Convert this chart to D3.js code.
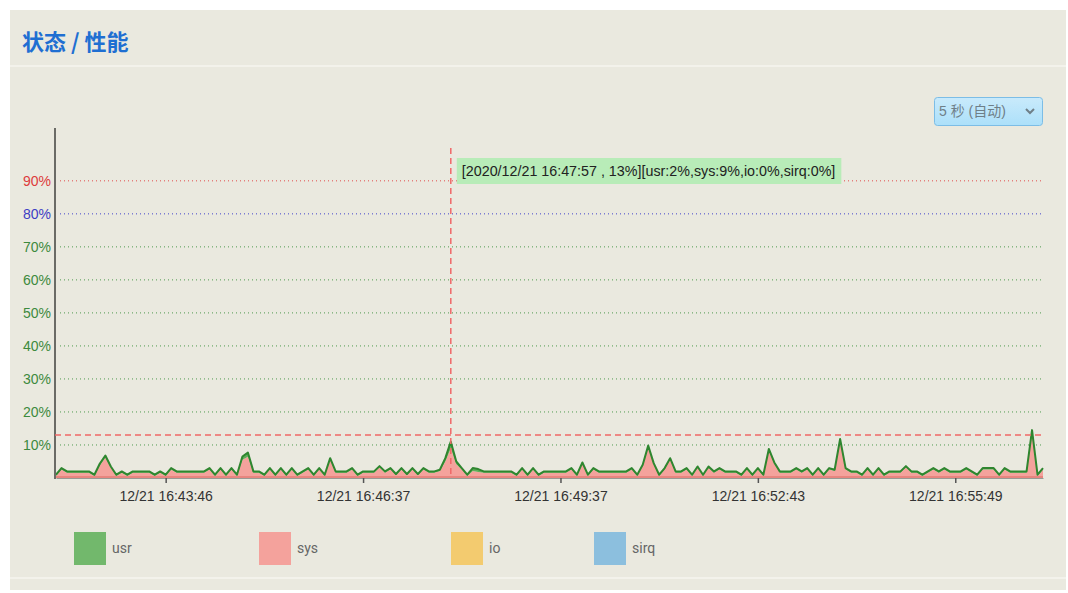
<!DOCTYPE html>
<html><head><meta charset="utf-8">
<script src="https://cdn.jsdelivr.net/npm/d3@7/dist/d3.min.js"></script>
<style>
html,body{margin:0;padding:0;background:#fff;}
svg{display:block;}
</style></head>
<body>
<svg id="c" width="1068" height="593"></svg>
<script>
// ---- data ----
const seriesNames = ["usr", "sys", "io", "sirq"];
const seriesColors = ["#72b86c", "#f4a29c", "#f3cb6f", "#8cbfde"];
const usr = [
0.4,0.4,0.4,0.4,0.4,0.4,0.4,0.4,0.6,0.7,0.4,0.4,0.4,0.4,0.4,0.4,0.4,0.4,0.4,0.4,
0.4,0.4,0.4,0.4,0.4,0.4,0.4,0.4,0.4,0.4,0.4,0.4,0.4,0.4,1.0,1.3,0.4,0.4,0.4,0.4,
0.4,0.4,0.4,0.4,0.4,0.4,0.4,0.4,0.4,0.4,0.4,0.4,0.4,0.4,0.4,0.4,0.4,0.4,0.4,0.4,
0.4,0.4,0.4,0.4,0.4,0.4,0.4,0.4,0.4,0.4,0.4,1.0,2.0,0.8,0.4,0.4,0.9,0.9,0.4,0.4,
0.4,0.4,0.4,0.4,0.4,0.4,0.4,0.4,0.4,0.4,0.4,0.4,0.4,0.4,0.4,0.4,0.4,0.4,0.4,0.4,
0.4,0.4,0.4,0.4,0.4,0.4,0.4,0.4,0.6,0.4,0.4,0.4,0.4,0.4,0.4,0.4,0.4,0.4,0.4,0.4,
0.4,0.4,0.4,0.4,0.4,0.4,0.4,0.4,0.4,0.4,0.5,0.4,0.4,0.4,0.4,0.4,0.4,0.4,0.4,0.4,
0.4,0.4,0.4,0.6,0.4,0.4,0.4,0.4,0.4,0.4,0.4,0.4,0.4,0.4,0.4,0.4,0.4,0.4,0.4,0.4,
0.4,0.4,0.4,0.4,0.4,0.4,0.4,0.4,0.4,0.4,0.4,0.4,0.4,0.4,0.4,0.4,0.4,0.4,1.0,0.4,
0.4];
const sys = [
0.6,2.6,1.6,1.6,1.6,1.6,1.6,0.6,3.8,6.1,3.1,0.6,1.6,0.6,1.6,1.6,1.6,1.6,0.6,1.6,
0.6,2.6,1.6,1.6,1.6,1.6,1.6,1.6,2.6,0.6,2.6,0.6,2.6,0.6,5.5,6.4,1.6,1.6,0.6,2.6,
0.6,2.6,0.6,2.6,0.6,1.6,2.6,0.6,2.6,0.6,5.6,1.6,1.6,1.6,2.6,0.6,1.6,1.6,1.6,3.2,
1.6,2.6,0.8,2.6,0.8,2.6,0.8,2.6,1.6,1.6,2.1,5.0,9.0,4.2,2.6,0.6,2.1,1.8,1.6,1.6,
1.6,1.6,1.6,1.6,0.6,2.6,0.6,2.6,0.6,1.6,1.6,1.6,1.6,1.6,2.6,0.6,4.3,0.6,2.6,1.6,
1.6,1.6,1.6,1.6,1.6,2.6,0.6,3.6,9.2,4.1,0.6,2.6,5.6,1.6,1.6,2.6,0.6,3.1,0.6,3.1,
1.6,2.6,1.6,1.6,1.6,0.6,2.6,0.6,2.6,0.6,8.3,4.3,1.6,1.6,1.6,2.6,1.6,2.6,0.6,2.6,
0.6,2.6,2.1,11.2,2.6,1.6,1.6,0.6,2.6,0.6,2.6,0.6,1.6,1.6,1.6,3.2,1.6,1.6,0.6,1.6,
2.6,1.6,2.6,1.6,1.6,1.6,2.6,1.6,0.6,2.6,2.6,2.6,0.6,2.6,1.6,1.6,1.6,1.6,13.5,0.6,
2.6];
const xTickIndex = [20, 56, 92, 128, 164];
const xTickLabels = ["12/21 16:43:46", "12/21 16:46:37", "12/21 16:49:37", "12/21 16:52:43", "12/21 16:55:49"];
const yTicks = [10, 20, 30, 40, 50, 60, 70, 80, 90];
const hoverIndex = 72;
const hoverValue = 13;
const tooltipText = "[2020/12/21 16:47:57 , 13%][usr:2%,sys:9%,io:0%,sirq:0%]";
const titleText = "状态 / 性能";
const selectText = "5 秒 (自动)";

// ---- drawing ----
const svg = d3.select("#c");
const bg = "#eae9df";
svg.append("rect").attr("x",10).attr("y",10).attr("width",1056).attr("height",580).attr("fill",bg);
svg.append("line").attr("x1",10).attr("x2",1066).attr("y1",66).attr("y2",66).attr("stroke","#f3f2eb").attr("stroke-width",2);
svg.append("line").attr("x1",10).attr("x2",1066).attr("y1",578).attr("y2",578).attr("stroke","#f3f2eb").attr("stroke-width",2);

svg.append("text").attr("x",22).attr("y",50).text(titleText)
  .attr("font-family","'Noto Sans CJK SC', sans-serif").attr("font-weight","bold")
  .attr("font-size",22).attr("fill","#1f6fd2");

// dropdown
const dd = svg.append("g").attr("transform","translate(934,97)");
const grad = svg.append("defs").append("linearGradient").attr("id","ddg").attr("x1",0).attr("x2",0).attr("y1",0).attr("y2",1);
grad.append("stop").attr("offset","0%").attr("stop-color","#c9eafb");
grad.append("stop").attr("offset","100%").attr("stop-color","#ace0fa");
dd.append("rect").attr("x",0.5).attr("y",0.5).attr("width",108).attr("height",28).attr("rx",3)
  .attr("fill","url(#ddg)").attr("stroke","#7cbde6");
dd.append("text").attr("x",5).attr("y",19).text(selectText)
  .attr("font-family","'Liberation Sans', Arial, 'Noto Sans CJK SC', sans-serif").attr("font-size",14).attr("fill","#6f7f88");
dd.append("path").attr("d","M92,12 L96,16 L100,12").attr("fill","none").attr("stroke","#6f7f88").attr("stroke-width",2);

const x = d3.scaleLinear().domain([0, usr.length - 1]).range([56, 1043]);
const y = d3.scaleLinear().domain([0, 106]).range([478, 128]);

const gridColor = v => v === 90 ? "#e14b4b" : (v === 80 ? "#4444cc" : "#4f9a4f");
const labelColor = v => v === 90 ? "#dd3b3b" : (v === 80 ? "#3d3dc4" : "#3d8a3d");

// grid
svg.append("g").selectAll("line").data(yTicks).join("line")
  .attr("x1", 60).attr("x2", 1043).attr("y1", d => y(d)).attr("y2", d => y(d))
  .attr("stroke", gridColor).attr("stroke-width", 1).attr("stroke-dasharray", "1,3");

// areas
const data = usr.map((u, i) => ({i, usr: u, sys: sys[i]}));
const sysArea = d3.area().x(d => x(d.i)).y0(y(0)).y1(d => y(d.sys));
const usrArea = d3.area().x(d => x(d.i)).y0(d => y(d.sys)).y1(d => y(d.sys + d.usr));
const topLine = d3.line().x(d => x(d.i)).y(d => y(d.sys + d.usr));
svg.append("path").datum(data).attr("d", sysArea).attr("fill", "#f4a29c");
svg.append("path").datum(data).attr("d", usrArea).attr("fill", "#5fae5a");
svg.append("path").datum(data).attr("d", topLine).attr("fill","none").attr("stroke","#2f862f").attr("stroke-width",2).attr("stroke-linejoin","round");
svg.append("line").attr("x1",55).attr("x2",1043).attr("y1",477).attr("y2",477).attr("stroke","#e8857f").attr("stroke-width",2);

// axes
const xAxis = d3.axisBottom(x).tickValues(xTickIndex).tickFormat((d, k) => xTickLabels[k]).tickSize(5).tickSizeOuter(0);
const gx = svg.append("g").attr("transform", "translate(0,478)").call(xAxis);
gx.select(".domain").attr("stroke", "#9a9a94");
gx.selectAll(".tick line").attr("stroke", "#555").attr("stroke-width", 1.5);
gx.selectAll(".tick text").attr("font-family", "'Liberation Sans', Arial, sans-serif").attr("font-size", 14).attr("fill", "#333").attr("dy", "1.05em");

const yAxis = d3.axisLeft(y).tickValues(yTicks).tickFormat(d => d + "%").tickSize(0).tickPadding(4);
const gy = svg.append("g").attr("transform", "translate(55,0)").call(yAxis);
gy.select(".domain").remove();
gy.selectAll(".tick text").attr("font-family", "'Liberation Sans', Arial, sans-serif").attr("font-size", 14).attr("fill", d => labelColor(d));
svg.append("line").attr("x1",55).attr("x2",55).attr("y1",y(106)).attr("y2",479).attr("stroke","#6b6b66").attr("stroke-width",2);

// hover crosshair
svg.append("line").attr("x1", 55).attr("x2", 1043).attr("y1", y(hoverValue)).attr("y2", y(hoverValue))
  .attr("stroke", "#f06868").attr("stroke-width", 1.5).attr("stroke-dasharray", "6,4");
svg.append("line").attr("x1", x(hoverIndex)).attr("x2", x(hoverIndex)).attr("y1", 148).attr("y2", 478)
  .attr("stroke", "#f06868").attr("stroke-width", 1.5).attr("stroke-dasharray", "6,4");

// tooltip
const tt = svg.append("g").attr("transform", `translate(${x(hoverIndex) + 6},158)`);
const ttText = tt.append("text").attr("x", 5).attr("y", 18).text(tooltipText)
  .attr("font-family", "'Liberation Sans', Arial, sans-serif").attr("font-size", 14.3).attr("fill", "#222");
const tw = ttText.node().getComputedTextLength();
tt.insert("rect", "text").attr("x", 0).attr("y", 0).attr("width", tw + 11).attr("height", 26).attr("fill", "#b8ecb8");

// legend
const legX = [74, 259, 451, 594];
const lg = svg.append("g").selectAll("g").data(seriesNames).join("g")
  .attr("transform", (d, k) => `translate(${legX[k]},532)`);
lg.append("rect").attr("width", 32).attr("height", 33).attr("fill", (d, k) => seriesColors[k]);
lg.append("text").attr("x", 38).attr("y", 21).text(d => d)
  .attr("font-family", "Roboto, sans-serif").attr("font-size", 14).attr("fill", "#666");
</script>
</body></html>
